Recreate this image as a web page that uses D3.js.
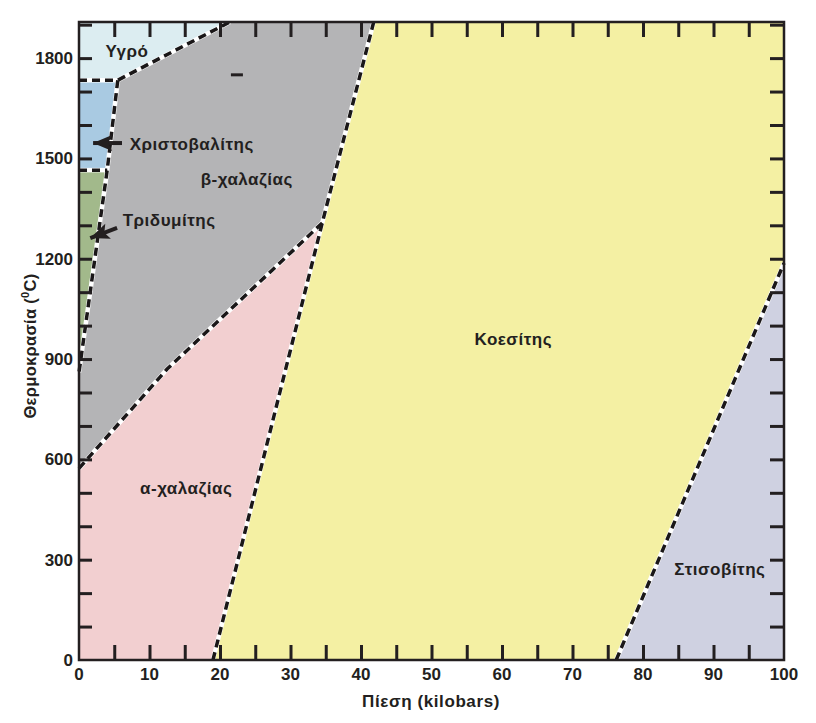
<!DOCTYPE html>
<html><head><meta charset="utf-8">
<script src="https://cdn.jsdelivr.net/npm/d3@7"></script>
<style>
body{margin:0;background:#fff;}
svg text{font-family:"Liberation Sans",Arial,sans-serif;font-weight:bold;fill:#231f20;}
</style></head>
<body><svg id="c" width="816" height="723"></svg>
<script>
// ---- data (P in kbar, T in °C) ----
const xTicksLabeled = [0,10,20,30,40,50,60,70,80,90,100];
const yTicksLabeled = [0,300,600,900,1200,1500,1800];
const phaseNames = ["Υγρό","Χριστοβαλίτης","Τριδυμίτης","β-χαλαζίας","α-χαλαζίας","Κοεσίτης","Στισοβίτης"];
const phaseColors = ["#dcedf1","#a9cae2","#a2b98b","#b4b4b6","#f2cfd0","#f4f0a3","#cfd1e1"];
const liquid      = [[0,1908],[21.4,1908],[5.5,1734],[0,1734]];
const cristobalite= [[0,1734],[5.5,1734],[4,1465],[0,1465]];
const tridymite   = [[0,1465],[4,1465],[0,860]];
const betaQuartz  = [[5.5,1734],[21.4,1908],[41.8,1908],[34.5,1307],[12.5,870],[0,573],[0,860],[4,1465]];
const alphaQuartz = [[0,573],[12.5,870],[34.5,1307],[19,0],[0,0]];
const coesite     = [[34.5,1307],[41.8,1908],[100,1908],[100,1187],[76.2,0],[19,0]];
const stishovite  = [[76.2,0],[100,1187],[100,0]];
const boundaries = [
  [[0,1734],[5.5,1734],[21.4,1908]],
  [[0,1465],[4,1465]],
  [[5.5,1734],[4,1465],[0,860]],
  [[0,573],[12.5,870],[34.5,1307]],
  [[19,0],[34.5,1307],[41.8,1908]],
  [[76.2,0],[100,1187]]
];
const labelPos = [[6.8,1803],[7.2,1525],[6.2,1298],[23.8,1421],[15.2,496],[61.6,942],[90.9,254]];
const labelAnchor = ["middle","start","start","middle","middle","middle","middle"];
const arrows = [ [[6.1,1546],[2.0,1546]], [[5.4,1292],[1.6,1262]] ];
const strayMarks = [[22.4,1750]];

// ---- scales ----
const x = d3.scaleLinear().domain([0,100]).range([79,784]);
const y = d3.scaleLinear().domain([0,1908]).range([660,22]);
const svg = d3.select("#c");
const line = d3.line().x(d=>x(d[0])).y(d=>y(d[1]));

const polys = [liquid,cristobalite,tridymite,betaQuartz,alphaQuartz,coesite,stishovite];
svg.append("g").selectAll("path").data(polys).join("path")
  .attr("d", d=>line(d)+"Z").attr("fill",(d,i)=>phaseColors[i]).attr("stroke",(d,i)=>phaseColors[i]).attr("stroke-width",0.5);

// boundaries: white under-line + black dashes
svg.append("g").selectAll("path").data(boundaries).join("path")
  .attr("d", line).attr("fill","none").attr("stroke","#fff").attr("stroke-width",4.5);
svg.append("g").selectAll("path").data(boundaries).join("path")
  .attr("d", line).attr("fill","none").attr("stroke","#1a1718").attr("stroke-width",3.5)
  .attr("stroke-dasharray","8,5");

// stray mark
svg.append("g").selectAll("line").data(strayMarks).join("line")
  .attr("x1",d=>x(d[0])-6).attr("x2",d=>x(d[0])+6).attr("y1",d=>y(d[1])).attr("y2",d=>y(d[1]))
  .attr("stroke","#231f20").attr("stroke-width",3);

// axes (inward ticks)
const tickStyle = g => { g.selectAll(".tick line").attr("stroke","#231f20").attr("stroke-width",3);
  g.select(".domain").remove(); g.selectAll(".tick text").remove(); };
svg.append("g").attr("transform",`translate(0,${y(0)})`)
  .call(d3.axisTop(x).tickValues(d3.range(5,100,5)).tickSize(15)).call(tickStyle);
svg.append("g").attr("transform",`translate(0,${y(1908)})`)
  .call(d3.axisBottom(x).tickValues(d3.range(5,100,5)).tickSize(15)).call(tickStyle);
svg.append("g").attr("transform",`translate(${x(0)},0)`)
  .call(d3.axisRight(y).tickValues(d3.range(100,1901,100)).tickSize(13)).call(tickStyle);
svg.append("g").attr("transform",`translate(${x(100)},0)`)
  .call(d3.axisLeft(y).tickValues(d3.range(100,1901,100)).tickSize(14)).call(tickStyle);

// frame
svg.append("rect").attr("x",x(0)).attr("y",y(1908)).attr("width",x(100)-x(0)).attr("height",y(0)-y(1908))
  .attr("fill","none").attr("stroke","#231f20").attr("stroke-width",2.5);

// tick labels
svg.append("g").selectAll("text").data(xTicksLabeled).join("text")
  .attr("x",d=>x(d)).attr("y",y(0)+20).attr("text-anchor","middle").attr("font-size",17).text(d=>d);
svg.append("g").selectAll("text").data(yTicksLabeled).join("text")
  .attr("x",x(0)-6).attr("y",d=>y(d)+6).attr("text-anchor","end").attr("font-size",17).text(d=>d);

// axis titles
svg.append("text").attr("x",431).attr("y",707).attr("text-anchor","middle").attr("font-size",17)
  .attr("letter-spacing",0.6).text("Πίεση (kilobars)");
const yt = svg.append("text").attr("transform","translate(36,346) rotate(-90)").attr("text-anchor","middle")
  .attr("font-size",16.5).attr("letter-spacing",0.3);
yt.append("tspan").text("Θερμοκρασία (");
yt.append("tspan").attr("font-size",11).attr("dy",-7).text("0");
yt.append("tspan").attr("dy",7).text("C)");

// phase labels
svg.append("g").selectAll("text").data(phaseNames).join("text")
  .attr("x",(d,i)=>x(labelPos[i][0])).attr("y",(d,i)=>y(labelPos[i][1]))
  .attr("text-anchor",(d,i)=>labelAnchor[i]).attr("font-size",17).attr("letter-spacing",0.5).text(d=>d);

// arrows (shaft + filled head)
const ag = svg.append("g").selectAll("g").data(arrows).join("g");
ag.append("line")
  .attr("x1",d=>x(d[0][0])).attr("y1",d=>y(d[0][1]))
  .attr("x2",d=>x(d[1][0])).attr("y2",d=>y(d[1][1]))
  .attr("stroke","#231f20").attr("stroke-width",4);
ag.append("path").attr("fill","#231f20").attr("d",d=>{
  const x0=x(d[0][0]),y0=y(d[0][1]),x1=x(d[1][0]),y1=y(d[1][1]);
  const L=Math.hypot(x1-x0,y1-y0),ux=(x1-x0)/L,uy=(y1-y0)/L,len=19,hw=8;
  const bx=x1-ux*len,by=y1-uy*len;
  return `M${x1},${y1}L${bx-uy*hw},${by+ux*hw}L${bx+ux*4},${by+uy*4}L${bx+uy*hw},${by-ux*hw}Z`;
});
</script></body></html>
